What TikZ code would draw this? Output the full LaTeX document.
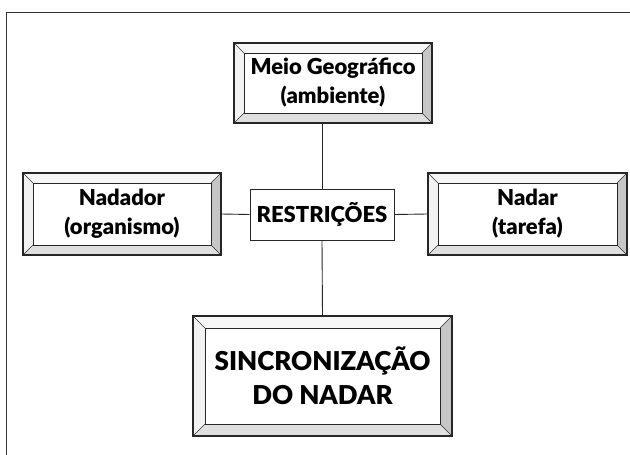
\documentclass[tikz,border=0pt]{standalone}
\usepackage{fontspec}
\setmainfont{Lato}[BoldFont={Lato Black}]
\usetikzlibrary{calc}

\def\bw{10}
\tikzset{
  bevel width/.code={\def\bw{#1}},
  bevelbox/.style={draw=black!85, line width=1.4pt, align=center, inner sep=0pt,
    font=\bfseries\fontsize{22}{29}\selectfont,
    path picture={
      \path (path picture bounding box.south west) coordinate (bsw)
            (path picture bounding box.north east) coordinate (bne);
      \coordinate (bnw) at (bsw |- bne);
      \coordinate (bse) at (bne |- bsw);
      \coordinate (isw) at ($(bsw)+(\bw,-\bw)$);
      \coordinate (ine) at ($(bne)+(-\bw,\bw)$);
      \coordinate (inw) at ($(bnw)+(\bw,\bw)$);
      \coordinate (ise) at ($(bse)+(-\bw,-\bw)$);
      \fill[gray!6] (bnw) -- (bne) -- (ine) -- (inw) -- cycle;   % top
      \fill[gray!10] (bnw) -- (bsw) -- (isw) -- (inw) -- cycle;  % left
      \fill[gray!45] (bne) -- (bse) -- (ise) -- (ine) -- cycle;  % right
      \fill[gray!25] (bsw) -- (bse) -- (ise) -- (isw) -- cycle;  % bottom
      \draw[black!80, line width=0.6pt] (bnw) -- (inw) (bne) -- (ine) (bsw) -- (isw) (bse) -- (ise);
      \draw[black!85, line width=0.9pt] (isw) rectangle (ine);
    }},
  plainbox/.style={draw=black!85, line width=1pt, fill=white, inner sep=0pt,
    font=\bfseries\fontsize{22}{25}\selectfont},
  link/.style={draw=black!85, line width=0.9pt}
}

\begin{document}
\begin{tikzpicture}[x=1pt, y=-1pt]
\useasboundingbox (0,0) rectangle (630,455);
\fill[white] (0,0) rectangle (630,455);

% frame
\draw[black!80, line width=1.4pt] (6.5,455) -- (6.5,12.5) -- (630,12.5);

\node[bevelbox, minimum width=198pt, minimum height=80pt] (geo) at (333,83) {Meio Geográfico\\(ambiente)};
\node[bevelbox, minimum width=198pt, minimum height=82pt] (org) at (122,214) {Nadador\\(organismo)};
\node[bevelbox, minimum width=199pt, minimum height=82pt] (task) at (527.5,214) {Nadar\\(tarefa)};
\node[plainbox, minimum width=144pt, minimum height=51pt] (restr) at (322,214.5) {RESTRIÇÕES};
\node[bevelbox, bevel width=12, minimum width=259pt, minimum height=120pt,
      font=\bfseries\fontsize{26}{34}\selectfont] (sync) at (322.5,376) {SINCRONIZAÇÃO\\DO NADAR};

\draw[link] (restr.north) -- (restr.north |- geo.south);
\draw[link] (org.east) -- (restr.west);
\draw[link] (restr.east) -- (task.west);
\draw[link] (restr.south) -- (sync.north);
\end{tikzpicture}
\end{document}
